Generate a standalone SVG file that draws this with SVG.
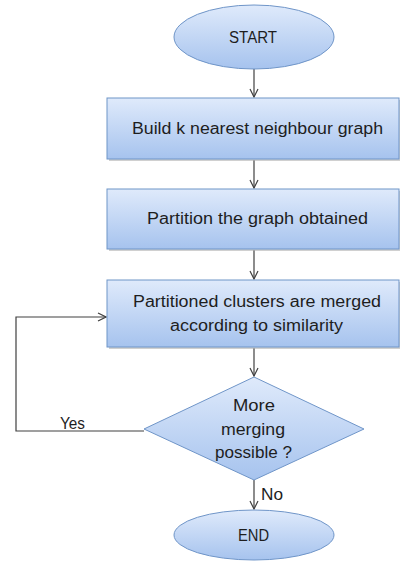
<svg xmlns="http://www.w3.org/2000/svg" width="400" height="562" viewBox="0 0 400 562">
  <style>
    .shape { fill: url(#blueFill); stroke: #6f95c8; stroke-width: 1; }
    .label { font-family: "Liberation Sans", Arial, sans-serif; font-size: 16px; fill: #1e1e1e; text-anchor: middle; }
    .edge { fill: none; stroke: #404040; stroke-width: 1.2; }
    .shadow { fill: #b0b0b0; opacity: 0.6; }
  </style>
  <defs>
    <linearGradient id="blueFill" x1="0" y1="0" x2="0" y2="1">
      <stop offset="0" stop-color="#dfeafb"/>
      <stop offset="1" stop-color="#a6c3ee"/>
    </linearGradient>
    <marker id="arrow" viewBox="0 0 10 10" refX="9" refY="5" markerWidth="10" markerHeight="10" markerUnits="userSpaceOnUse" orient="auto">
      <path d="M1,1 L9,5 L1,9" fill="none" stroke="#404040" stroke-width="1.2"/>
    </marker>
  </defs>

  <!-- connectors -->
  <g id="connectors">
    <line class="edge" x1="254" y1="69" x2="254" y2="97" marker-end="url(#arrow)"/>
    <line class="edge" x1="254" y1="160" x2="254" y2="188" marker-end="url(#arrow)"/>
    <line class="edge" x1="254" y1="250" x2="254" y2="279" marker-end="url(#arrow)"/>
    <line class="edge" x1="254" y1="348" x2="254" y2="376" marker-end="url(#arrow)"/>
    <polyline class="edge" points="144,431 16,431 16,317 106,317" marker-end="url(#arrow)"/>
    <line class="edge" x1="254" y1="480" x2="254" y2="509" marker-end="url(#arrow)"/>
    <text class="label" x="72.5" y="429" textLength="25" lengthAdjust="spacingAndGlyphs">Yes</text>
    <text class="label" x="272" y="500" textLength="22" lengthAdjust="spacingAndGlyphs">No</text>
  </g>

  <g id="start">
    <ellipse class="shape" cx="254" cy="37" rx="80" ry="32"/>
    <text class="label" x="253" y="43" textLength="48" lengthAdjust="spacingAndGlyphs">START</text>
  </g>

  <g id="build-knn">
    <rect class="shadow" x="109" y="100" width="292" height="61"/>
    <rect class="shape" x="107" y="98" width="292" height="61"/>
    <text class="label" x="257.5" y="134" textLength="251" lengthAdjust="spacingAndGlyphs">Build k nearest neighbour graph</text>
  </g>

  <g id="partition">
    <rect class="shadow" x="109" y="191" width="292" height="60"/>
    <rect class="shape" x="107" y="189" width="292" height="60"/>
    <text class="label" x="257.5" y="224" textLength="221" lengthAdjust="spacingAndGlyphs">Partition the graph obtained</text>
  </g>

  <g id="merge">
    <rect class="shadow" x="109" y="282" width="292" height="67"/>
    <rect class="shape" x="107" y="280" width="292" height="67"/>
    <text class="label" x="257" y="307" textLength="248" lengthAdjust="spacingAndGlyphs">Partitioned clusters are merged</text>
    <text class="label" x="256.5" y="331" textLength="173" lengthAdjust="spacingAndGlyphs">according to similarity</text>
  </g>

  <g id="decision">
    <polygon class="shape" points="254,377 364,429 254,480 144,429"/>
    <text class="label" x="254" y="411" textLength="42" lengthAdjust="spacingAndGlyphs">More</text>
    <text class="label" x="253" y="435" textLength="64" lengthAdjust="spacingAndGlyphs">merging</text>
    <text class="label" x="253.5" y="458" textLength="77" lengthAdjust="spacingAndGlyphs">possible ?</text>
  </g>

  <g id="end">
    <ellipse class="shape" cx="254" cy="535" rx="80" ry="25"/>
    <text class="label" x="253.5" y="541" textLength="31" lengthAdjust="spacingAndGlyphs">END</text>
  </g>
</svg>
